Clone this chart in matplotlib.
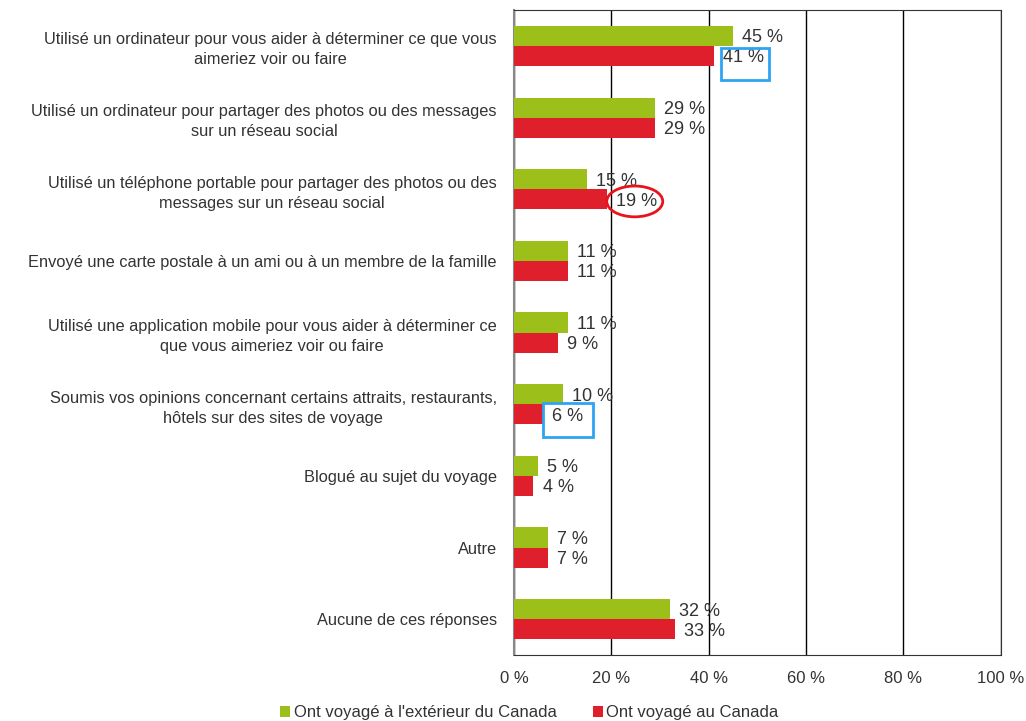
import numpy as np
import matplotlib
matplotlib.use("Agg")
import matplotlib.pyplot as plt
from matplotlib.patches import Rectangle, Ellipse

plt.rcParams['font.family'] = ['Liberation Sans', 'DejaVu Sans']

categories = [
    "Utilisé un ordinateur pour vous aider à déterminer ce que vous\naimeriez voir ou faire",
    "Utilisé un ordinateur pour partager des photos ou des messages\nsur un réseau social",
    "Utilisé un téléphone portable pour partager des photos ou des\nmessages sur un réseau social",
    "Envoyé une carte postale à un ami ou à un membre de la famille",
    "Utilisé une application mobile pour vous aider à déterminer ce\nque vous aimeriez voir ou faire",
    "Soumis vos opinions concernant certains attraits, restaurants,\nhôtels sur des sites de voyage",
    "Blogué au sujet du voyage",
    "Autre",
    "Aucune de ces réponses",
]
outside = [45, 29, 15, 11, 11, 10, 5, 7, 32]
canada = [41, 29, 19, 11, 9, 6, 4, 7, 33]
series_names = ["Ont voyagé à l'extérieur du Canada", "Ont voyagé au Canada"]
xticks = [0, 20, 40, 60, 80, 100]

green = '#9dbf1a'
red = '#e01f2d'
text_col = '#333333'

fig = plt.figure(figsize=(10.26, 7.21), dpi=100)
ax = fig.add_axes([0.501, 0.0915, 0.4745, 0.8945])

y = np.arange(len(categories))
h = 0.28
b1 = ax.barh(y - h / 2, outside, height=h, color=green, label=series_names[0], zorder=3)
b2 = ax.barh(y + h / 2, canada, height=h, color=red, label=series_names[1], zorder=3)

for bars, vals in [(b1, outside), (b2, canada)]:
    for bar, v in zip(bars, vals):
        ax.annotate(f"{v} %", (v, bar.get_y() + bar.get_height() / 2),
                    xytext=(6.5, 0), textcoords='offset points', va='center_baseline',
                    ha='left', fontsize=13, color=text_col)

ax.set_xlim(0, 100)
ax.set_ylim(len(categories) - 0.5, -0.5)
ax.set_xticks(xticks)
ax.set_xticklabels([f"{t} %" for t in xticks], fontsize=12, color=text_col)
ax.set_yticks(y)
ax.set_yticklabels(categories, fontsize=11.8, color=text_col, multialignment='center',
                   linespacing=1.4)
ax.tick_params(axis='x', length=0, pad=11.5)
ax.tick_params(axis='y', length=0, pad=12.5)
ax.grid(axis='x', color='black', linewidth=1, zorder=1)
for s in ['top', 'right', 'bottom']:
    ax.spines[s].set_color('#333333')
ax.spines['left'].set_color('#888888')
ax.spines['left'].set_linewidth(1.5)

# highlight shapes around some labels
ax.add_patch(Rectangle((canada[0] + 1.5, 0.03), 9.9, 0.45, fill=False,
                       edgecolor='#2ea3f2', linewidth=2, zorder=5, clip_on=False))
ax.add_patch(Rectangle((canada[5] + 0.0, 4.98), 10.2, 0.48, fill=False,
                       edgecolor='#2ea3f2', linewidth=2, zorder=5, clip_on=False))
ax.add_patch(Ellipse((canada[2] + 5.8, 2.17), 11.5, 0.43, fill=False,
                     edgecolor='#e8141c', linewidth=2, zorder=5, clip_on=False))

fig.legend(handles=[b1, b2], loc='lower center', bbox_to_anchor=(0.516, -0.02), ncol=2,
           frameon=False, fontsize=12, handlelength=0.6, handleheight=0.6,
           handletextpad=0.2, columnspacing=2.2, labelcolor=text_col)

fig.savefig("out.png", dpi=100)
